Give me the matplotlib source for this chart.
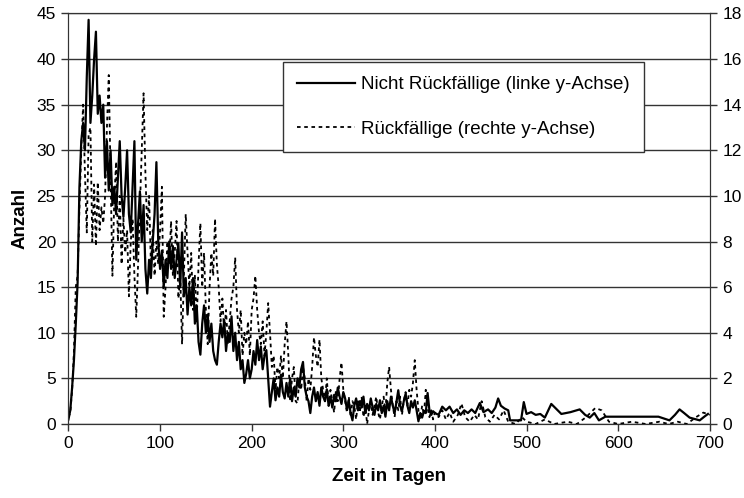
import numpy as np
import matplotlib as mpl
mpl.use('Agg')
import matplotlib.pyplot as plt

plt.rcParams['font.family'] = ['Liberation Sans', 'DejaVu Sans']

# Tage 0..400 in 2er-Schritten (dichter Teil), danach einzelne Stuetzstellen
tage_dicht = np.arange(0, 401, 2)

nicht_rf_dicht = [
    0.5, 1.5, 4, 7, 11, 15.5, 26, 31, 33, 30, 38, 44.3, 33, 36, 40, 43, 34, 36, 33, 35,
    27, 31, 25.6, 30, 24, 26, 23, 27, 31, 25, 22.7, 26, 30, 23, 21, 26, 31, 18, 22, 25.5,
    20, 24, 17, 14.3, 18, 16, 20, 23, 28.7, 20, 17, 19, 15, 18, 16, 20, 17, 19.5, 16, 18,
    19.8, 15, 21, 14, 16, 12, 15, 13, 16, 11, 13, 9, 7.6, 11, 13, 10, 12, 9, 11, 8,
    7, 6.5, 9, 11, 9.5, 11.4, 8, 10, 9, 11.8, 8, 10, 7, 9, 6, 7, 4.5, 5.5, 7, 5,
    6, 8, 6.5, 9.2, 7, 8.5, 6, 7.5, 8.1, 5, 1.9, 3.5, 5, 2.6, 4, 3, 5.4, 3.5, 2.8, 4.5,
    3, 5, 2.5, 4, 3, 5, 4, 6, 6.8, 4, 3, 2.5, 1.2, 3, 4, 2.5, 3.5, 2, 4, 3,
    2.5, 3.8, 2, 3, 1.8, 3.2, 2.5, 4, 3, 2.2, 3.5, 2.8, 1.6, 2.5, 1.2, 0.4, 2, 2.8, 1.5, 2.5,
    1.8, 3, 1.2, 2.2, 1.5, 2.8, 1.8, 1, 2.2, 1.5, 2.6, 1.2, 2, 0.8, 2.5, 1.5, 3, 2, 1.2, 2.4,
    3.7, 2, 1.4, 2.5, 3.3, 2, 1.2, 2.5, 1.8, 2.6, 1.5, 0.3, 1.2, 0.7, 1.4, 1.2, 3.4, 1.5, 1, 1.4,
    1.2,
]

rf_dicht = [
    0.3, 0.5, 1.5, 3.2, 6, 6.5, 9.5, 12, 14, 11, 8.4, 12.7, 13, 8, 10.5, 7.8, 10.6, 8.5, 9.5, 8.8,
    10, 13, 15.3, 11, 6.5, 9.8, 11.5, 8, 10, 7, 9, 7.5, 8.5, 5.6, 8, 9, 6.5, 4.7, 7, 9.5,
    12, 14.5, 11, 8.5, 10, 7, 8.5, 6.5, 8, 7, 8.5, 10.4, 4.7, 6, 8, 7, 8.9, 6.5, 7.5, 8.9,
    5.5, 6.5, 3.5, 6.5, 9.2, 7.5, 6, 7.5, 5, 6.5, 4.5, 7, 8.8, 6, 7.5, 5, 3.5, 6, 7.5, 6.5,
    9, 7, 6, 4.5, 5.5, 4, 5, 3.5, 4.5, 5.5, 6, 7.3, 5, 4, 5, 3, 4, 3.5, 4.5, 3,
    5, 5.5, 6.5, 5, 4, 3.5, 4.5, 3, 4, 5.3, 4, 2.5, 3, 1.5, 2.5, 2, 3, 2, 3.5, 4.5,
    3, 1, 2, 2.5, 1, 0.9, 2, 1.5, 2.5, 2, 1, 2, 1.5, 2.5, 3.8, 3, 2.5, 3.7, 2, 1.5,
    1, 2, 0.8, 1.5, 1, 0.5, 1.5, 1, 2, 2.7, 1.5, 1, 0.5, 1.2, 0.3, 1, 0.8, 0.2, 1, 0.5,
    1.2, 0.3, 0.8, 0, 0.6, 1, 0.4, 0.8, 1.2, 0.5, 0.2, 0.8, 1.2, 0.6, 1.8, 2.5, 1.5, 0.8, 0.3, 1,
    0.6, 1.2, 0.4, 1, 1.4, 0.8, 1.5, 1.2, 1.8, 2.8, 1.5, 0.6, 0.2, 0.8, 0.4, 1.5, 0.7, 0.3, 0.6, 0.2,
    0.5,
]

tage_nrf_rest = [404, 408, 412, 416, 420, 424, 428, 432, 436, 440, 444, 449, 453, 458, 462, 466,
                 469, 472, 476, 480, 482, 494, 497, 500, 505, 510, 515, 520, 527, 532, 538, 548,
                 558, 564, 569, 574, 579, 586, 600, 620, 644, 656, 662, 667, 672, 678, 689, 694, 698]
nicht_rf_rest = [1.0, 1.9, 1.5, 1.9, 1.2, 1.6, 1.0, 1.5, 1.2, 1.6, 1.2, 2.3, 1.3, 1.6, 1.2, 1.8,
                 2.8, 2.0, 1.7, 1.5, 0.4, 0.4, 2.4, 1.1, 1.3, 1.0, 1.1, 0.7, 2.2, 1.7, 1.1, 1.3,
                 1.6, 1.0, 0.7, 1.2, 0.4, 0.8, 0.8, 0.8, 0.8, 0.4, 1.0, 1.6, 1.2, 0.7, 0.4, 0.8, 1.1]

tage_rf_rest = [404, 408, 412, 416, 420, 425, 429, 433, 438, 443, 447, 451, 455, 460, 465, 470,
                475, 480, 488, 495, 500, 510, 520, 530, 545, 555, 565, 575, 582, 590, 600, 615,
                630, 645, 655, 665, 675, 685, 693, 700]
rf_rest = [0.3, 0.6, 0.2, 0.5, 0.1, 0.4, 0.9, 0.3, 0.1, 0.4, 0.2, 1.0, 0.3, 0.1, 0.4, 0.2,
           0.6, 0.1, 0.0, 0.3, 0.1, 0.0, 0.2, 0.0, 0.1, 0.0, 0.3, 0.7, 0.6, 0.1, 0.0, 0.1,
           0.0, 0.1, 0.0, 0.1, 0.0, 0.3, 0.5, 0.4]

x_nrf = np.concatenate([tage_dicht, tage_nrf_rest])
y_nrf = np.concatenate([nicht_rf_dicht, nicht_rf_rest])
x_rf = np.concatenate([tage_dicht, tage_rf_rest])
y_rf = np.concatenate([rf_dicht, rf_rest])

fig = plt.figure(figsize=(7.44, 4.98), dpi=100)
ax = fig.add_axes([0.092, 0.1486, 0.862, 0.8244])
ax2 = ax.twinx()

l1, = ax.plot(x_nrf, y_nrf, color='black', lw=1.6)
l2, = ax2.plot(x_rf, y_rf, color='black', lw=1.3, ls=(0, (2, 2)))

ax.set_xlim(0, 700)
ax.set_ylim(0, 45)
ax2.set_ylim(0, 18)
ax.set_xticks(range(0, 701, 100))
ax.set_yticks(range(0, 46, 5))
ax2.set_yticks(range(0, 19, 2))

ax.yaxis.grid(True, color='#333333', lw=1.0)
ax.set_axisbelow(True)
for a in (ax, ax2):
    for s in a.spines.values():
        s.set_color('#333333')
    a.tick_params(labelsize=12.5, length=5, width=1, color='#333333', pad=4)

ax.set_xlabel('Zeit in Tagen', fontsize=13.5, fontweight='bold', labelpad=12)
ax.set_ylabel('Anzahl', fontsize=13.5, fontweight='bold', labelpad=6)

fig.legend([l1, l2], ['Nicht Rückfällige (linke y-Achse)', 'Rückfällige (rechte y-Achse)'],
           loc='upper left', bbox_to_anchor=(283 / 744, 1 - 62 / 498), fontsize=13.5,
           frameon=True, fancybox=False, edgecolor='#333333', framealpha=1,
           handlelength=3.1, handletextpad=0.3, labelspacing=1.45, borderpad=0.75,
           borderaxespad=0)

fig.savefig('out.png', dpi=100)
